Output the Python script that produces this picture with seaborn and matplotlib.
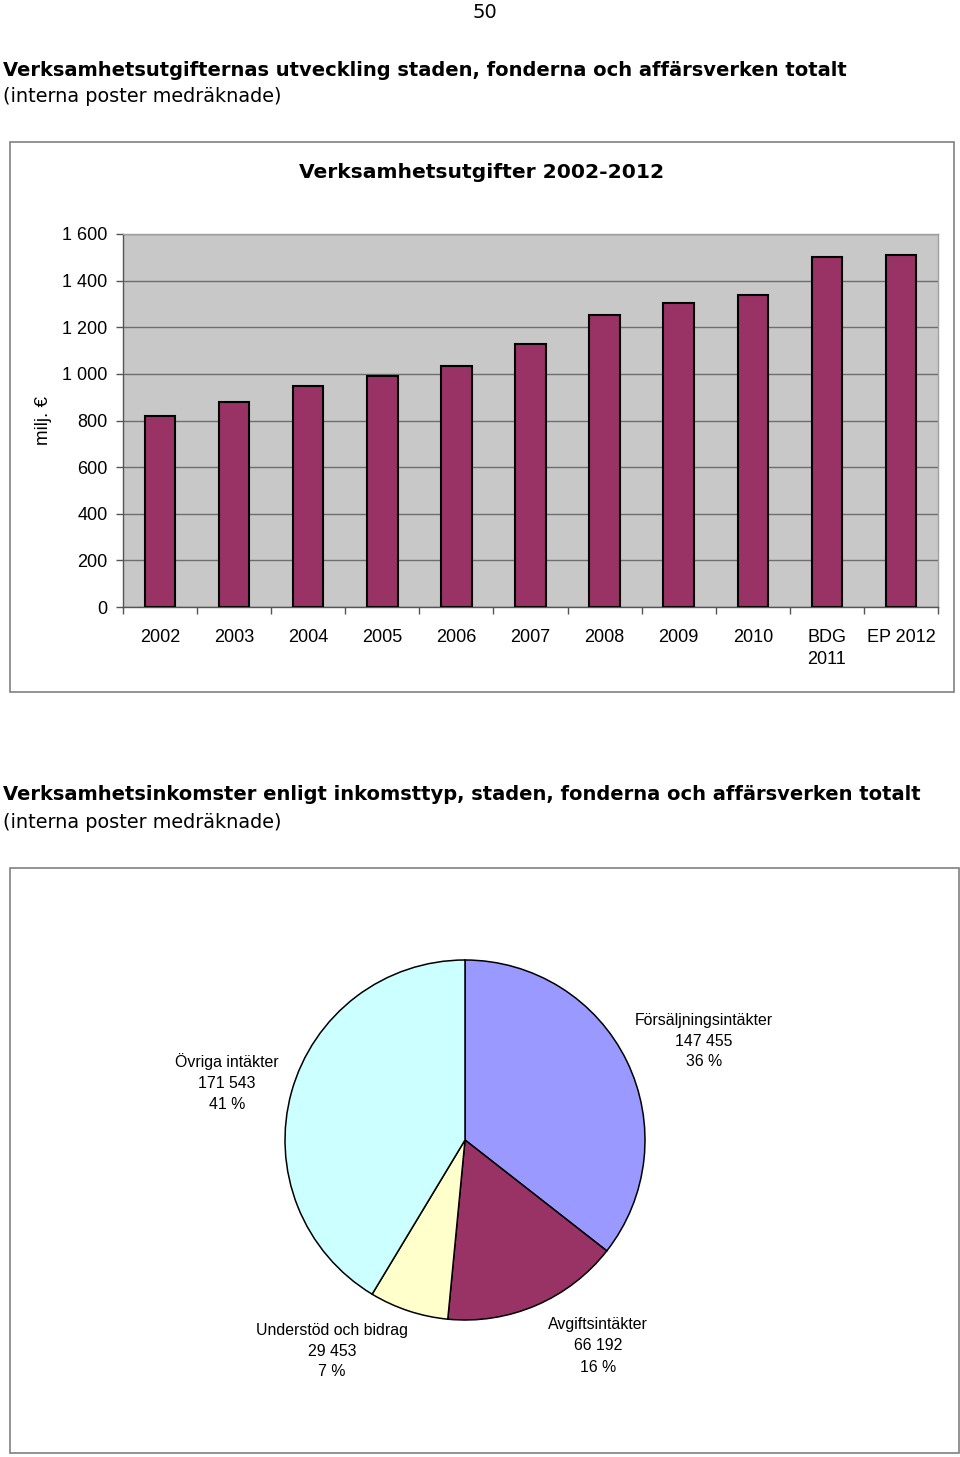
import matplotlib
matplotlib.use("Agg")
import matplotlib.pyplot as plt
from matplotlib.patches import Rectangle
import seaborn as sns
import pandas as pd

# ---- data ----
years = ["2002", "2003", "2004", "2005", "2006", "2007", "2008", "2009", "2010", "BDG\n2011", "EP 2012"]
expenses = [820, 879, 950, 990, 1033, 1128, 1251, 1304, 1339, 1503, 1511]
yticks = [0, 200, 400, 600, 800, 1000, 1200, 1400, 1600]
ytick_labels = ["0", "200", "400", "600", "800", "1 000", "1 200", "1 400", "1 600"]

income_types = ["Försäljningsintäkter", "Avgiftsintäkter", "Understöd och bidrag", "Övriga intäkter"]
income_values = [147455, 66192, 29453, 171543]
income_labels_val = ["147 455", "66 192", "29 453", "171 543"]
income_pct = ["36 %", "16 %", "7 %", "41 %"]
income_colors = ["#9999FF", "#993366", "#FFFFCC", "#CCFFFF"]

W, H = 960, 1457
sns.set_theme(style="white")
plt.rcParams['font.family'] = ['DejaVu Sans']
plt.rcParams['text.color'] = 'black'
plt.rcParams['xtick.labelcolor'] = 'black'
plt.rcParams['ytick.labelcolor'] = 'black'

fig = plt.figure(figsize=(W / 100, H / 100), dpi=100)


def rect(x, y, w, h):
    return [x / W, 1 - (y + h) / H, w / W, h / H]


def ftext(x, y, s, **kw):
    return fig.text(x / W, 1 - y / H, s, **kw)


# page number & headings
ftext(485, 12, "50", ha="center", va="center", fontsize=14)
ftext(3, 70, "Verksamhetsutgifternas utveckling staden, fonderna och affärsverken totalt",
      ha="left", va="center", fontsize=14, fontweight="bold")
ftext(3, 97, "(interna poster medräknade)", ha="left", va="center", fontsize=13.9)
ftext(3, 795, "Verksamhetsinkomster enligt inkomsttyp, staden, fonderna och affärsverken totalt",
      ha="left", va="center", fontsize=14, fontweight="bold")
ftext(3, 822, "(interna poster medräknade)", ha="left", va="center", fontsize=13.9)

# chart frames
for (x, y, w, h) in [(10, 142, 944, 550), (10, 868, 949, 585)]:
    fig.add_artist(Rectangle((x / W, 1 - (y + h) / H), w / W, h / H,
                             transform=fig.transFigure, fill=False,
                             edgecolor="#808080", lw=1.2))

# ---- bar chart ----
ax = fig.add_axes(rect(123, 234, 815, 373))
df = pd.DataFrame({"year": years, "value": expenses})
sns.barplot(data=df, x="year", y="value", color="#993366", saturation=1,
            edgecolor="black", linewidth=1.5, width=0.41, ax=ax, zorder=3)
ax.set_facecolor("#C8C8C8")
ax.set_ylim(0, 1600)
ax.set_xlim(-0.5, len(years) - 0.5)
ax.set_yticks(yticks)
ax.set_yticklabels(ytick_labels, fontsize=13, family="Liberation Sans")
ax.yaxis.grid(True, color="#6E6E6E", lw=1)
ax.set_axisbelow(True)
ax.set_xlabel("")
ax.set_ylabel("")
ax.set_xticks([i for i in range(len(years))], minor=False)
ax.set_xticklabels(years, fontsize=13, family="Liberation Sans", linespacing=1.4, va="top")
ax.tick_params(axis="x", which="major", length=0, pad=16)
ax.set_xticks([i - 0.5 for i in range(len(years) + 1)], minor=True)
ax.tick_params(axis="x", which="minor", length=5, color="#555555", width=1, direction="out", bottom=True)
ax.tick_params(axis="y", length=5, color="#555555", width=1, direction="out", left=True, pad=6)
for s in ["top", "right"]:
    ax.spines[s].set_color("#A0A0A0")
    ax.spines[s].set_linewidth(1)
for s in ["left", "bottom"]:
    ax.spines[s].set_color("#555555")
    ax.spines[s].set_linewidth(1)
ftext(482, 172, "Verksamhetsutgifter 2002-2012", ha="center", va="center",
      fontsize=14.6, fontweight="bold")
ftext(43, 420, "milj. €", ha="center", va="center", rotation=90, fontsize=13.5, family="Liberation Sans")

# ---- pie chart ----
pax = fig.add_axes(rect(465 - 198, 1140 - 198, 396, 396))
pax.pie(income_values, colors=income_colors, startangle=90, counterclock=False,
        radius=1, wedgeprops=dict(edgecolor="black", linewidth=1.1))
pax.set_xlim(-1.1, 1.1)
pax.set_ylim(-1.1, 1.1)
pax.set_aspect("equal")
pax.axis("off")

label_pos = [(704, 1041), (598, 1346), (332, 1351), (227, 1083)]
for (px, py), name, val, pct in zip(label_pos, income_types, income_labels_val, income_pct):
    ftext(px, py, f"{name}\n{val}\n{pct}", ha="center", va="center", fontsize=11.4,
          family="Liberation Sans", linespacing=1.5)

fig.savefig("out.png", dpi=100, facecolor="white")
